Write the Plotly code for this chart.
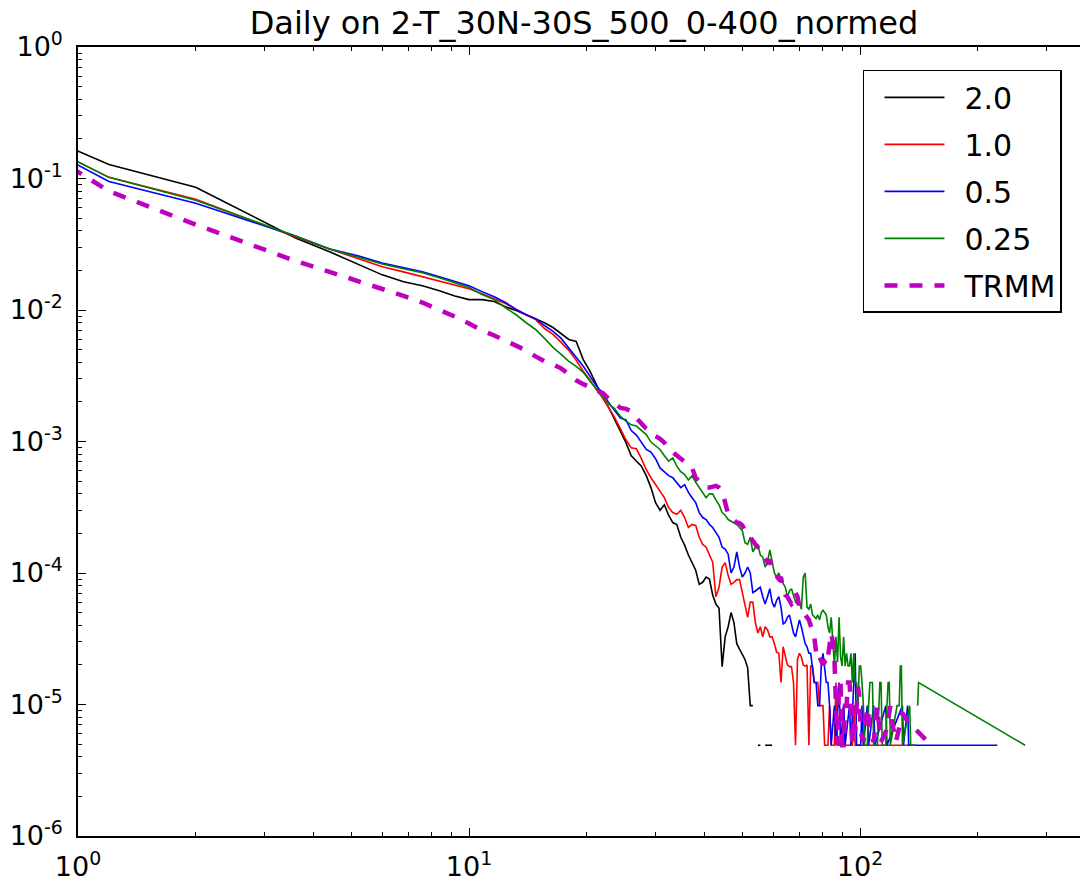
import plotly.graph_objects as go

# Normalised daily rain-rate histograms (bin centres, width 0.8 mm/day)
x_20 = [0.4, 1.2, 2.0, 2.8, 3.6, 4.4, 5.2, 6.0, 6.8, 7.6, 8.4, 9.2, 10.0, 10.8, 11.6, 12.4,
        13.2, 14.0, 14.8, 15.6, 16.4, 17.2, 18.0, 18.8, 19.6, 20.4, 21.2, 22.0, 22.8, 23.6,
        24.4, 25.2, 26.0, 26.8, 27.6, 28.4, 29.2, 30.0, 30.8, 31.6, 32.4, 33.2, 34.0, 34.8,
        35.6, 36.4, 37.2, 38.0, 38.8, 39.6, 40.4, 41.2, 42.0, 42.8, 43.6, 44.4, 45.2, 46.0,
        46.8, 47.6, 48.4, 49.2, 50.0, 50.8, 51.6, 52.4, 53.2, 54.0, 54.8, 55.6, 56.4, 57.2,
        58.0, 58.8, 59.6]
y_20 = [0.52, 0.128, 0.0858, 0.052, 0.0353, 0.0277, 0.0224, 0.0185, 0.0164, 0.0153, 0.0140,
        0.0128, 0.0120, 0.0120, 0.0116, 0.0106, 0.0099, 0.0092, 0.0086, 0.0080, 0.00736,
        0.00663, 0.00597, 0.00577, 0.0042, 0.00342, 0.00273, 0.00214, 0.0018, 0.00146,
        0.00118, 9.8e-4, 7.8e-4, 7.1e-4, 6.5e-4, 5.5e-4, 4.46e-4, 3.43e-4, 3.0e-4, 3.3e-4,
        2.75e-4, 2.42e-4, 2.34e-4, 1.87e-4, 1.63e-4, 1.37e-4, 1.21e-4, 1.05e-4, 8.2e-5,
        8.5e-5, 9.3e-5, 9.0e-5, 6.8e-5, 5.8e-5, 5.4e-5, 1.94e-5, 3.27e-5, 3.9e-5, 5.0e-5,
        4.2e-5, 2.9e-5, 2.6e-5, 2.4e-5, 2.2e-5, 1.9e-5, 9.8e-6, 9.8e-6, None, 4.9e-6,
        4.9e-6, None, 4.9e-6, 4.9e-6, 4.9e-6, 4.9e-6]

x_10 = [0.4, 1.2, 2.0, 2.8, 3.6, 4.4, 5.2, 6.0, 6.8, 7.6, 8.4, 9.2, 10.0, 10.8, 11.6, 12.4,
        13.2, 14.0, 14.8, 15.6, 16.4, 17.2, 18.0, 18.8, 19.6, 20.4, 21.2, 22.0, 22.8, 23.6,
        24.4, 25.2, 26.0, 26.8, 27.6, 28.4, 29.2, 30.0, 30.8, 31.6, 32.4, 33.2, 34.0, 34.8,
        35.6, 36.4, 37.2, 38.0, 38.8, 39.6, 40.4, 41.2, 42.0, 42.8, 43.6, 44.4, 45.2, 46.0,
        46.8, 47.6, 48.4, 49.2, 50.0, 50.8, 51.6, 52.4, 53.2, 54.0, 54.8, 55.6, 56.4, 57.2,
        58.0, 58.8, 59.6, 60.4, 61.2, 62.0, 62.8, 63.6, 64.4, 65.2, 66.0, 66.8, 67.6, 68.4,
        69.2, 70.0, 70.8, 71.6, 72.4, 73.2, 74.0, 74.8, 75.6, 76.4, 77.2, 78.0, 78.8, 79.6,
        80.4, 81.2, 82.0, 82.8, 83.6, 84.4, 86.0, 86.8, 87.6, 90.0, 90.8, 91.6, 95.6, 96.4,
        97.2, 138.0]
y_10 = [0.52, 0.102, 0.0696, 0.0476, 0.0359, 0.0291, 0.0245, 0.0213, 0.0195, 0.0179, 0.0164,
        0.0153, 0.0145, 0.0133, 0.0122, 0.0112, 0.0101, 0.0092, 0.00846, 0.00723, 0.00652,
        0.00567, 0.00493, 0.00414, 0.00342, 0.00292, 0.00246, 0.00214, 0.0018, 0.00151,
        0.00125, 0.00103, 8.95e-4, 8.8e-4, 7.4e-4, 6.1e-4, 5.3e-4, 4.7e-4, 4.2e-4, 3.74e-4,
        3.15e-4, 2.88e-4, 2.8e-4, 3.0e-4, 2.64e-4, 2.22e-4, 2.34e-4, 2.3e-4, 1.87e-4,
        1.65e-4, 1.57e-4, 1.39e-4, 1.21e-4, 6.6e-5, 7.8e-5, 1.11e-4, 1.2e-4, 9.6e-5, 8.2e-5,
        8.5e-5, 8.9e-5, 8.9e-5, 7.1e-5, 5.5e-5, 4.6e-5, 6.0e-5, 6.0e-5, 4.2e-5, 3.5e-5,
        3.9e-5, 3.27e-5, 3.9e-5, 3.7e-5, 3.27e-5, 3.27e-5, 2.9e-5, 2.5e-5, 2.45e-5, 1.47e-5,
        2.75e-5, 2.31e-5, 2.0e-5, 1.94e-5, 1.94e-5, 1.47e-5, 4.9e-6, 2.2e-5, 2.45e-5,
        2.31e-5, 2.0e-5, 1.96e-5, 2.0e-5, 4.9e-6, 1.96e-5, 1.96e-5, 1.47e-5, 1.47e-5,
        1.47e-5, 9.8e-6, 9.8e-6, 9.8e-6, 4.9e-6, 4.9e-6, 4.9e-6, 9.8e-6, 4.9e-6, 4.9e-6,
        1.47e-5, 4.9e-6, 4.9e-6, 9.8e-6, 4.9e-6, 4.9e-6, 9.8e-6, 4.9e-6, 4.9e-6]

x_05 = [0.4, 1.2, 2.0, 2.8, 3.6, 4.4, 5.2, 6.0, 6.8, 7.6, 8.4, 9.2, 10.0, 10.8, 11.6, 12.4,
        13.2, 14.0, 14.8, 15.6, 16.4, 17.2, 18.0, 18.8, 19.6, 20.4, 21.2, 22.0, 22.8, 23.6,
        24.4, 25.2, 26.0, 26.8, 27.6, 28.4, 29.2, 30.0, 30.8, 31.6, 32.4, 33.2, 34.0, 34.8,
        35.6, 36.4, 37.2, 38.0, 38.8, 39.6, 40.4, 41.2, 42.0, 42.8, 43.6, 44.4, 45.2, 46.0,
        46.8, 47.6, 48.4, 49.2, 50.0, 50.8, 51.6, 52.4, 53.2, 54.0, 54.8, 55.6, 56.4, 57.2,
        58.0, 58.8, 59.6, 60.4, 61.2, 62.0, 62.8, 63.6, 64.4, 65.2, 66.0, 66.8, 67.6, 68.4,
        69.2, 70.0, 70.8, 71.6, 72.4, 73.2, 74.0, 74.8, 75.6, 76.4, 77.2, 78.0, 78.8, 79.6,
        80.4, 81.2, 82.0, 82.8, 83.6, 84.4, 86.0, 86.8, 88.4, 89.2, 90.8, 91.6, 94.0, 94.8,
        97.2, 98.0, 100.4, 101.2, 102.0, 104.4, 105.2, 108.4, 109.2, 116.4, 117.2, 128.4,
        129.2, 132.4, 133.2, 224.4]
y_05 = [0.53, 0.095, 0.0649, 0.0466, 0.0365, 0.0291, 0.0258, 0.0228, 0.0209, 0.0195, 0.0179,
        0.0164, 0.0153, 0.0138, 0.0126, 0.0114, 0.0101, 0.0092, 0.0086, 0.00762, 0.00687,
        0.00608, 0.00511, 0.00429, 0.00373, 0.00313, 0.00263, 0.00233, 0.00196, 0.00171,
        0.00151, 0.00146, 0.00121, 0.00112, 9.8e-4, 8.7e-4, 8.3e-4, 7.4e-4, 6.3e-4, 5.9e-4,
        5.5e-4, 5.3e-4, 4.9e-4, 4.46e-4, 4.7e-4, 4.1e-4, 3.74e-4, 3.43e-4, 2.88e-4, 2.64e-4,
        2.55e-4, 2.34e-4, 2.22e-4, 2.05e-4, 1.87e-4, 1.57e-4, 1.52e-4, 1.39e-4, 1.0e-4,
        1.11e-4, 1.45e-4, 1.11e-4, 9.3e-5, 1.0e-4, 1.11e-4, 1.0e-4, 7.1e-5, 7.3e-5, 7.6e-5,
        7.8e-5, 6.6e-5, 5.8e-5, 6.6e-5, 7.6e-5, 6.0e-5, 5.5e-5, 6.2e-5, 6.6e-5, 5.5e-5,
        4.1e-5, 4.2e-5, 4.6e-5, 4.8e-5, 4.0e-5, 3.5e-5, 3.27e-5, 3.9e-5, 4.4e-5, 3.9e-5,
        3.27e-5, 2.9e-5, 2.75e-5, 2.45e-5, 2.45e-5, 1.96e-5, 1.47e-5, 1.47e-5, 9.8e-6,
        9.8e-6, 1.96e-5, 2.45e-5, 1.96e-5, 1.47e-5, 1.47e-5, 9.8e-6, 4.9e-6, 9.8e-6, 4.9e-6,
        1.47e-5, 4.9e-6, 9.8e-6, 4.9e-6, 9.8e-6, 4.9e-6, 2.45e-5, 4.9e-6, 4.9e-6, 9.8e-6,
        4.9e-6, 9.8e-6, 4.9e-6, 9.8e-6, 4.9e-6, 9.8e-6, 4.9e-6, 9.8e-6, 4.9e-6, 9.8e-6,
        4.9e-6, 4.9e-6]

x_025 = [0.4, 1.2, 2.0, 2.8, 3.6, 4.4, 5.2, 6.0, 6.8, 7.6, 8.4, 9.2, 10.0, 10.8, 11.6, 12.4,
         13.2, 14.0, 14.8, 15.6, 16.4, 17.2, 18.0, 18.8, 19.6, 20.4, 21.2, 22.0, 22.8, 23.6,
         24.4, 25.2, 26.0, 26.8, 27.6, 28.4, 29.2, 30.0, 30.8, 31.6, 32.4, 33.2, 34.0, 34.8,
         35.6, 36.4, 37.2, 38.0, 38.8, 39.6, 40.4, 41.2, 42.0, 42.8, 43.6, 44.4, 45.2, 46.0,
         46.8, 47.6, 48.4, 49.2, 50.0, 50.8, 51.6, 52.4, 53.2, 54.0, 54.8, 55.6, 56.4, 57.2,
         58.0, 58.8, 59.6, 60.4, 61.2, 62.0, 62.8, 63.6, 64.4, 65.2, 66.0, 66.8, 67.6, 68.4,
         69.2, 70.0, 70.8, 71.6, 72.4, 73.2, 74.0, 74.8, 75.6, 76.4, 77.2, 78.0, 78.8, 79.6,
         80.4, 81.2, 82.0, 82.8, 83.6, 84.4, 85.2, 86.0, 86.8, 87.6, 88.4, 89.2, 90.0, 90.8,
         91.6, 92.4, 93.2, 94.0, 94.8, 95.6, 96.4, 97.2, 98.0, 98.8, 99.6, 100.4, 101.2,
         102.0, 102.8, 104.4, 105.2, 106.0, 106.8, 107.6, 108.4, 110.8, 112.4, 113.2, 114.0,
         116.4, 117.2, 118.0, 118.8, 119.6, 124.4, 126.0, 126.8, 127.6, 128.4, 134.0, 134.8,
         138.8, 139.6, 140.4, 141.2, 264.4]
y_025 = [0.52, 0.102, 0.0684, 0.048, 0.0365, 0.0291, 0.0253, 0.0224, 0.0206, 0.0192, 0.0176,
         0.0161, 0.0148, 0.0131, 0.0120, 0.0104, 0.0092, 0.0080, 0.00711, 0.00608, 0.0052,
         0.0046, 0.00407, 0.00373, 0.00336, 0.00287, 0.0025, 0.00217, 0.00192, 0.00177,
         0.00155, 0.00143, 0.00134, 0.00131, 0.00122, 0.00113, 9.9e-4, 9.2e-4, 8.7e-4,
         7.8e-4, 7.1e-4, 7.5e-4, 6.5e-4, 5.9e-4, 5.6e-4, 5.1e-4, 5.5e-4, 4.9e-4, 4.46e-4,
         4.0e-4, 3.74e-4, 4.0e-4, 4.0e-4, 3.6e-4, 3.3e-4, 2.88e-4, 2.75e-4, 2.55e-4, 2.47e-4,
         2.4e-4, 2.34e-4, 2.22e-4, 2.1e-4, 1.7e-4, 1.65e-4, 1.87e-4, 1.45e-4, 1.57e-4,
         1.65e-4, 1.37e-4, 1.32e-4, 1.11e-4, 1.21e-4, 1.5e-4, 1.21e-4, 1.0e-4, 9.3e-5,
         1.0e-4, 8.9e-5, 8.2e-5, 7.8e-5, 6.6e-5, 7.3e-5, 7.6e-5, 6.6e-5, 6.0e-5, 5.8e-5,
         6.0e-5, 5.3e-5, 9.3e-5, 1.0e-4, 5.5e-5, 5.3e-5, 5.8e-5, 4.8e-5, 4.6e-5, 4.5e-5,
         4.8e-5, 4.4e-5, 5.0e-5, 5.2e-5, 5.0e-5, 4.8e-5, 3.9e-5, 3.5e-5, 4.6e-5, 3.27e-5,
         2.0e-5, 3.27e-5, 2.1e-5, 4.6e-5, 2.3e-5, 1.96e-5, 3.27e-5, 1.96e-5, 2.45e-5,
         1.96e-5, 1.96e-5, 2.45e-5, 1.47e-5, 2.45e-5, 1.47e-5, 1.47e-5, 9.8e-6, 1.96e-5,
         1.96e-5, 1.47e-5, 9.8e-6, 4.9e-6, 4.9e-6, 9.8e-6, 1.47e-5, 1.47e-5, 1.47e-5, 4.9e-6,
         4.9e-6, 1.47e-5, 1.47e-5, 4.9e-6, 4.9e-6, 9.8e-6, 1.47e-5, 1.47e-5, 4.9e-6, 9.8e-6,
         9.8e-6, 1.96e-5, 1.96e-5, 4.9e-6, 9.8e-6, 4.9e-6, 4.9e-6, None, 9.8e-6, 1.47e-5,
         4.9e-6]

x_trmm = [0.4, 1.2, 2.0, 2.8, 3.6, 4.4, 5.2, 6.0, 6.8, 7.6, 8.4, 9.2, 10.0, 10.8, 11.6, 12.4,
          13.2, 14.0, 14.8, 15.6, 16.4, 17.2, 18.0, 18.8, 19.6, 20.4, 21.2, 22.0, 22.8, 23.6,
          24.4, 25.2, 26.0, 26.8, 27.6, 28.4, 29.2, 30.0, 30.8, 31.6, 32.4, 33.2, 34.0, 34.8,
          35.6, 36.4, 37.2, 38.0, 38.8, 39.6, 40.4, 41.2, 42.0, 42.8, 43.6, 44.4, 45.2, 46.0,
          46.8, 47.6, 48.4, 49.2, 50.0, 50.8, 51.6, 52.4, 53.2, 54.0, 54.8, 55.6, 56.4, 57.2,
          58.0, 58.8, 59.6, 60.4, 61.2, 62.0, 62.8, 63.6, 64.4, 65.2, 66.0, 66.8, 67.6, 68.4,
          69.2, 70.0, 70.8, 71.6, 72.4, 73.2, 74.0, 74.8, 75.6, 76.4, 77.2, 78.0, 78.8, 79.6,
          80.4, 81.2, 82.0, 82.8, 83.6, 84.4, 85.2, 86.0, 86.8, 87.6, 88.4, 89.2, 90.0, 90.8,
          91.6, 92.4, 93.2, 94.0, 94.8, 95.6, 96.4, 97.2, 98.8, 99.6, 100.4, 102.0, 104.4,
          105.2, 106.8, 108.4, 110.8, 111.6, 113.2, 116.4, 119.6, 120.4, 123.6, 128.4, 131.6,
          134.0, 136.4, 144.4, 149.2]
y_trmm = [0.62, 0.080, 0.0446, 0.0312, 0.0236, 0.0195, 0.0167, 0.0145, 0.0128, 0.0114, 0.0101,
          0.0089, 0.00789, 0.00698, 0.0064, 0.00587, 0.00538, 0.00493, 0.00444, 0.00407,
          0.00386, 0.0036, 0.00325, 0.00292, 0.00273, 0.00259, 0.00246, 0.00233, 0.0021,
          0.00192, 0.0018, 0.00177, 0.0017, 0.00151, 0.00138, 0.00125, 0.0012, 0.0011,
          0.00105, 9.8e-4, 8.8e-4, 8.3e-4, 7.8e-4, 7.4e-4, 7.0e-4, 6.5e-4, 6.3e-4, 5.3e-4,
          5.0e-4, 4.7e-4, 4.46e-4, 4.46e-4, 4.5e-4, 4.6e-4, 4.46e-4, 4.2e-4, 3.43e-4, 2.8e-4,
          2.64e-4, 2.55e-4, 2.42e-4, 2.4e-4, 2.3e-4, 2.1e-4, 2.05e-4, 1.87e-4, 1.72e-4,
          1.65e-4, 1.57e-4, 1.5e-4, 1.37e-4, 1.26e-4, 1.21e-4, 1.26e-4, 1.07e-4, 1.0e-4,
          9.6e-5, 9.0e-5, 9.3e-5, 7.3e-5, 6.8e-5, 6.6e-5, 6.2e-5, 5.8e-5, 6.0e-5, 7.1e-5,
          6.6e-5, 5.5e-5, 5.3e-5, 5.0e-5, 4.8e-5, 4.6e-5, 4.4e-5, 3.9e-5, 3.6e-5, 3.27e-5,
          2.5e-5, 2.2e-5, 2.3e-5, 2.1e-5, 2.0e-5, 2.1e-5, 2.0e-5, 2.3e-5, 2.75e-5, 3.5e-5,
          3.0e-5, 2.3e-5, 9.8e-6, 4.9e-6, 1.47e-5, 1.47e-5, 4.9e-6, 4.9e-6, 9.8e-6, 9.8e-6,
          1.47e-5, 1.47e-5, 9.8e-6, 4.9e-6, 9.8e-6, 6.2e-6, 1.37e-5, 1.15e-5, 6.2e-6, 5.2e-6,
          9.5e-6, 8.1e-6, 5.7e-6, 5.2e-6, 9.7e-6, 7.5e-6, 5.2e-6, 6.2e-6, 9.7e-6, 7.7e-6,
          5.2e-6, 8.6e-6, 7.7e-6, 7.0e-6, 6.8e-6, 5.7e-6, 5.2e-6]

series_names = ["2.0", "1.0", "0.5", "0.25", "TRMM"]
series_x = [x_20, x_10, x_05, x_025, x_trmm]
series_y = [y_20, y_10, y_05, y_025, y_trmm]
series_colors = ["#000000", "#ff0000", "#0000ff", "#008000", "#bf00bf"]

x_tickvals = [1, 10, 100]
x_ticktext = ["10<sup>0</sup>", "10<sup>1</sup>", "10<sup>2</sup>"]
y_tickvals = [1e-6, 1e-5, 1e-4, 1e-3, 1e-2, 1e-1, 1]
y_ticktext = ["10<sup>-6</sup>", "10<sup>-5</sup>", "10<sup>-4</sup>", "10<sup>-3</sup>",
              "10<sup>-2</sup>", "10<sup>-1</sup>", "10<sup>0</sup>"]

FONT = "DejaVu Sans, Bitstream Vera Sans, sans-serif"

fig = go.Figure()
for name, xs, ys, color in zip(series_names, series_x, series_y, series_colors):
    assert len(xs) == len(ys), name
    is_obs = name == "TRMM"
    fig.add_trace(go.Scatter(
        x=xs, y=ys, mode="lines",
        # en space keeps the legend label clear of the line sample
        name="\u2002" + name, legendgroup=name,
        connectgaps=False,
        line=dict(color=color, width=4.5 if is_obs else 1.6,
                  dash="13px,12px" if is_obs else "solid"),
    ))

minor_x = [m * 10 ** d for d in range(0, 3) for m in range(2, 10)]
minor_y = [m * 10.0 ** d for d in range(-6, 0) for m in range(2, 10)]

axis_common = dict(
    showline=True, linecolor="black", linewidth=1.5,
    showgrid=False, zeroline=False,
    ticks="inside", ticklen=8, tickwidth=1.2, tickcolor="black",
    tickfont=dict(family=FONT, size=27, color="black"),
)

fig.update_layout(
    width=1080, height=882,
    margin=dict(l=78, r=0, t=47, b=42, pad=0),
    paper_bgcolor="white", plot_bgcolor="white",
    title=dict(text="Daily on 2-T_30N-30S_500_0-400_normed",
               x=584 / 1080, xref="container", xanchor="center",
               y=1 - 23 / 882, yref="container", yanchor="middle",
               font=dict(family=FONT, size=32, color="black")),
    legend=dict(x=0.7834, y=0.971, xanchor="left", yanchor="top",
                bgcolor="white", bordercolor="black", borderwidth=1.5,
                font=dict(family=FONT, size=30, color="black"),
                tracegroupgap=5, itemwidth=60, indentation=15),
    xaxis=dict(type="log", range=[0, 1002 / 391], mirror="ticks",
               tickmode="array", tickvals=x_tickvals, ticktext=x_ticktext,
               ticklabelstandoff=6,
               minor=dict(ticks="inside", ticklen=4, tickwidth=1, tickcolor="black",
                          tickmode="array", tickvals=minor_x),
               **axis_common),
    yaxis=dict(type="log", range=[-6, 0], mirror=False,
               tickmode="array", tickvals=y_tickvals, ticktext=y_ticktext,
               ticklabelstandoff=8,
               minor=dict(ticks="inside", ticklen=4, tickwidth=1, tickcolor="black",
                          tickmode="array", tickvals=minor_y),
               **axis_common),
)

fig.write_html("out.html")
